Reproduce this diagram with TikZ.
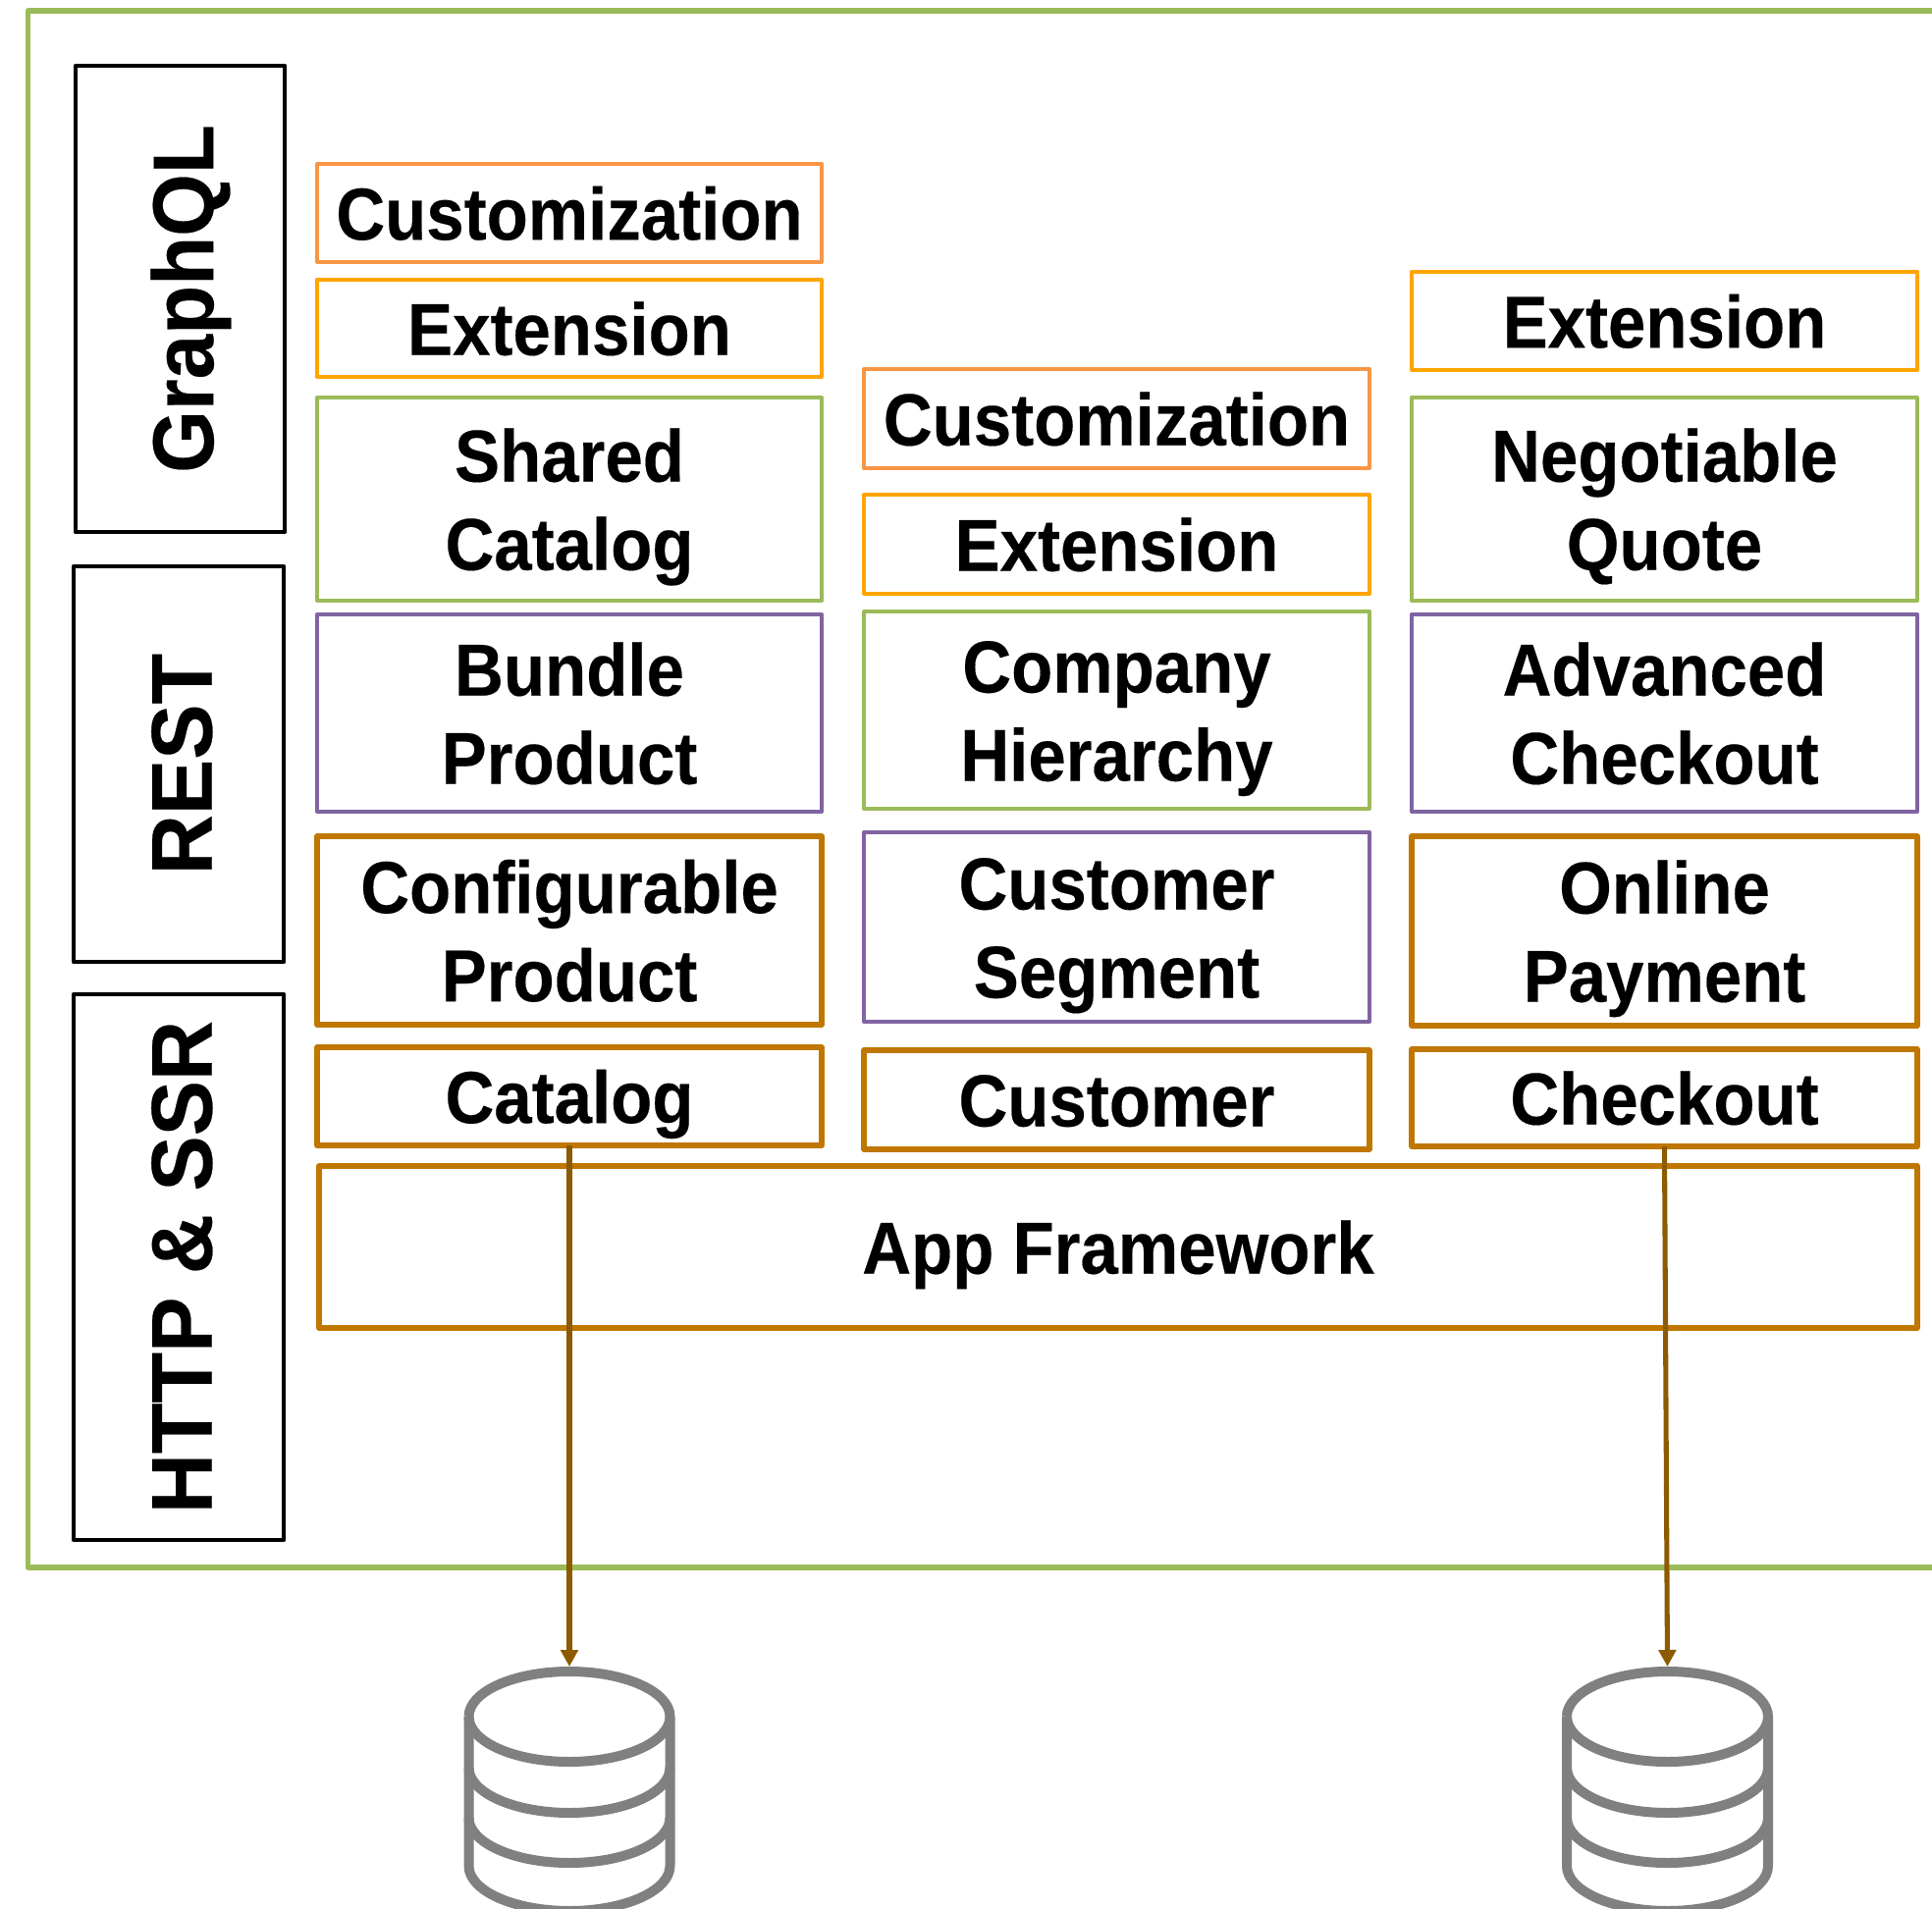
\documentclass[tikz,border=0pt]{standalone}
\usepackage{fontspec}
\setmainfont[FakeStretch=0.92,BoldFeatures={FakeBold=0.25}]{Liberation Sans}
\newfontfamily\rotfont[FakeStretch=0.96,BoldFeatures={FakeBold=0.25}]{Liberation Sans}
\newfontfamily\graphfont[FakeStretch=0.93,BoldFeatures={FakeBold=0.25}]{Liberation Sans}
\usetikzlibrary{arrows.meta}
\definecolor{cgreen}{HTML}{9BBB59}
\definecolor{ccust}{HTML}{F79646}
\definecolor{cext}{HTML}{FFA500}
\definecolor{cpurple}{HTML}{8064A2}
\definecolor{cbrown}{HTML}{BF7700}
\definecolor{carrow}{HTML}{8C5A00}
\definecolor{cdb}{HTML}{808080}
\tikzset{
  boxbase/.style={draw,inner sep=0pt,outer sep=0pt,line join=round,align=center,text depth=0pt,
    font=\fontsize{56.25pt}{67.5pt}\selectfont\bfseries},
  custbox/.style={boxbase,draw=ccust,line width=3pt},
  extbox/.style={boxbase,draw=cext,line width=3pt},
  greenbox/.style={boxbase,draw=cgreen,line width=3pt},
  purplebox/.style={boxbase,draw=cpurple,line width=3pt},
  brownbox/.style={boxbase,draw=cbrown,line width=4.1pt},
  sidebox/.style={draw=black,line width=3.2pt,inner sep=0pt,outer sep=0pt,line join=round,rotate=90,
    text height=50.5pt,text depth=0pt,
    font=\fontsize{66pt}{70pt}\rotfont\bfseries},
  frameline/.style={draw=cgreen,line width=3.8pt,line join=round},
  flow/.style={draw=carrow,line width=3.8pt,-{Triangle[length=12.75pt,width=13pt]}},
  dbline/.style={draw=cdb,line width=7.5pt,line join=round}
}
% name, x0, y0, x1, y1, style, text
\newcommand{\bx}[7]{\node[#6,minimum width={(#4-#2)*0.75pt},minimum height={(#5-#3)*0.75pt}] (#1) at ({(#2+#4)/2},{(#3+#5)/2}) {\rule{0pt}{40.5pt}#7};}
\newcommand{\sbx}[6]{\node[sidebox,minimum width={(#5-#3)*0.75pt},minimum height={(#4-#2)*0.75pt}] (#1) at ({(#2+#4)/2},{(#3+#5)/2}) {#6};}
\newcommand{\dbicon}[2]{%
  \coordinate (#1) at (#2,1697);
  \draw[dbline] (#2-102.5,1748) arc[start angle=180,end angle=-180,x radius=102.5,y radius=46];
  \draw[dbline] (#2-102.5,1748) -- (#2-102.5,1900) arc[start angle=180,end angle=0,x radius=102.5,y radius=46] -- (#2+102.5,1748);
  \draw[dbline] (#2-102.5,1800) arc[start angle=180,end angle=0,x radius=102.5,y radius=46];
  \draw[dbline] (#2-102.5,1851) arc[start angle=180,end angle=0,x radius=102.5,y radius=46];
}
\begin{document}
\begin{tikzpicture}[x=0.75pt,y=-0.75pt]
\useasboundingbox (0,-1) rectangle (1968,1944);
\draw[frameline] (1975,10) -- (28.5,10) -- (28.5,1596) -- (1975,1596);
\sbx{graphql}{77}{66}{290}{541}{\graphfont GraphQL}
\sbx{rest}{75}{576}{289}{979}{REST}
\sbx{http}{75}{1012}{289}{1568}{HTTP \& SSR}
% column 1
\bx{custa}{323}{166}{837}{266}{custbox}{Customization}
\bx{exta}{323}{284}{837}{383}{extbox}{Extension}
\bx{shared}{323}{404}{837}{611}{greenbox}{Shared\\Catalog}
\bx{bundle}{323}{625}{837}{826}{purplebox}{Bundle\\Product}
\bx{config}{323}{851}{837}{1043}{brownbox}{Configurable\\Product}
\bx{catalog}{323}{1066}{837}{1166}{brownbox}{Catalog}
% column 2
\bx{custb}{880}{375}{1395}{476}{custbox}{Customization}
\bx{extb}{880}{503}{1395}{604}{extbox}{Extension}
\bx{company}{880}{622}{1395}{823}{greenbox}{Company\\Hierarchy}
\bx{segment}{880}{847}{1395}{1040}{purplebox}{Customer\\Segment}
\bx{customer}{880}{1069}{1395}{1170}{brownbox}{Customer}
% column 3
\bx{extc}{1438}{276}{1953}{376}{extbox}{Extension}
\bx{quote}{1438}{404}{1953}{611}{greenbox}{Negotiable\\Quote}
\bx{advanced}{1438}{625}{1953}{826}{purplebox}{Advanced\\Checkout}
\bx{online}{1438}{851}{1953}{1044}{brownbox}{Online\\Payment}
\bx{checkout}{1438}{1068}{1953}{1167}{brownbox}{Checkout}
\bx{app}{325}{1187}{1953}{1352}{brownbox}{App Framework}
% databases
\dbicon{dba}{580}
\dbicon{dbb}{1698.5}
% connectors
\draw[flow] (catalog.south) -- (dba);
\draw[flow] (checkout.south) -- (dbb);
\end{tikzpicture}
\end{document}
